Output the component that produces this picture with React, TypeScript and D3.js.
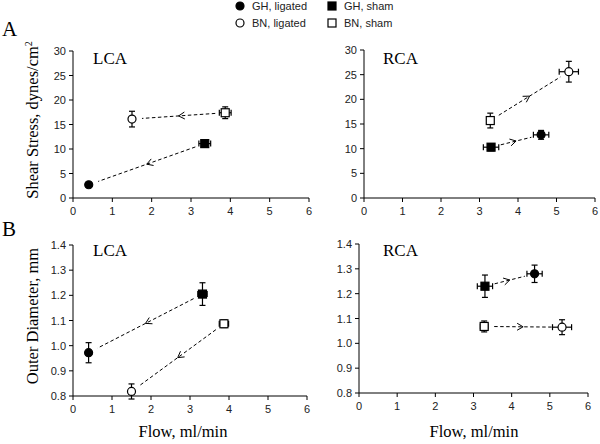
import React from "react";
import * as d3 from "d3";

// Groups order: GH ligated, BN ligated, GH sham, BN sham
const groupNames = ["GH, ligated", "BN, ligated", "GH, sham", "BN, sham"];
const groupShapes = ["circle", "circle", "square", "square"];
const groupFilled = [true, false, true, false];

const xTicks = [0, 1, 2, 3, 4, 5, 6];
const shearTicks = [0, 5, 10, 15, 20, 25, 30];
const diamTicks = [0.8, 0.9, 1.0, 1.1, 1.2, 1.3, 1.4];

// Panel A LCA
const lcaShearX = [0.4, 1.5, 3.35, 3.87];
const lcaShearY = [2.7, 16.1, 11.1, 17.4];
const lcaShearXErr = [0, 0, 0.15, 0.15];
const lcaShearYErr = [0, 1.6, 0.6, 1.2];
// Panel A RCA
const rcaShearX = [4.6, 5.32, 3.3, 3.28];
const rcaShearY = [12.8, 25.6, 10.3, 15.7];
const rcaShearXErr = [0.2, 0.25, 0.2, 0.08];
const rcaShearYErr = [0.9, 2.1, 0.7, 1.5];
// Panel B LCA
const lcaDiamX = [0.4, 1.5, 3.32, 3.87];
const lcaDiamY = [0.972, 0.818, 1.205, 1.087];
const lcaDiamXErr = [0, 0.06, 0.12, 0.12];
const lcaDiamYErr = [0.04, 0.03, 0.045, 0.015];
// Panel B RCA
const rcaDiamX = [4.6, 5.32, 3.3, 3.28];
const rcaDiamY = [1.28, 1.065, 1.23, 1.068];
const rcaDiamXErr = [0.2, 0.25, 0.2, 0.1];
const rcaDiamYErr = [0.035, 0.03, 0.045, 0.022];

// arrows: from sham to ligated
const arrowFrom = [2, 3];
const arrowTo = [0, 1];

const SERIF = "'Liberation Serif', 'Times New Roman', serif";
const SANS = "'Liberation Sans', Arial, sans-serif";

type PanelProps = {
  xs: number[]; ys: number[]; xe: number[]; ye: number[];
  xRange: [number, number]; yRange: [number, number];
  yDomain: [number, number]; yTicks: number[]; yFmt: (v: number) => string;
  title: string; titleX: number; titleY: number;
};

function Marker({ x, y, i }: { x: number; y: number; i: number }) {
  const fill = groupFilled[i] ? "#000" : "#fff";
  if (groupShapes[i] === "circle") {
    return <circle cx={x} cy={y} r={4} fill={fill} stroke="#000" strokeWidth={1.2} />;
  }
  return <rect x={x - 4} y={y - 4} width={8} height={8} fill={fill} stroke="#000" strokeWidth={1.2} />;
}

function Panel(p: PanelProps) {
  const x = d3.scaleLinear().domain([0, 6]).range(p.xRange);
  const y = d3.scaleLinear().domain(p.yDomain).range(p.yRange);
  const y0 = p.yRange[0];
  const x0 = p.xRange[0];
  const cap = 3;
  return (
    <g>
      <line x1={x0} x2={p.xRange[1]} y1={y0} y2={y0} stroke="#000" strokeWidth={1} />
      <line x1={x0} x2={x0} y1={y0} y2={p.yRange[1]} stroke="#000" strokeWidth={1} />
      {xTicks.map((t) => (
        <g key={"xt" + t}>
          <line x1={x(t)} x2={x(t)} y1={y0} y2={y0 + 4} stroke="#000" />
          <text x={x(t)} y={y0 + 17} textAnchor="middle" fontFamily={SANS} fontSize={11} fill="#222">{t}</text>
        </g>
      ))}
      {p.yTicks.map((t) => (
        <g key={"yt" + t}>
          <line x1={x0 - 4} x2={x0} y1={y(t)} y2={y(t)} stroke="#000" />
          <text x={x0 - 7} y={y(t) + 4} textAnchor="end" fontFamily={SANS} fontSize={11} fill="#222">{p.yFmt(t)}</text>
        </g>
      ))}
      <text x={p.titleX} y={p.titleY} fontFamily={SERIF} fontSize={17} fill="#000">{p.title}</text>
      {arrowFrom.map((f, k) => {
        const t = arrowTo[k];
        const ax = x(p.xs[f]), ay = y(p.ys[f]);
        const bx = x(p.xs[t]), by = y(p.ys[t]);
        const dx = bx - ax, dy = by - ay;
        const len = Math.hypot(dx, dy);
        const ux = dx / len, uy = dy / len;
        const sx = ax + ux * 10, sy = ay + uy * 10;
        const ex = bx - ux * 10, ey = by - uy * 10;
        const mx = (ax + bx) / 2, my = (ay + by) / 2;
        const hl = 6, hw = 3.5;
        const px = -uy, py = ux;
        const h1x = mx - ux * hl + px * hw, h1y = my - uy * hl + py * hw;
        const h2x = mx - ux * hl - px * hw, h2y = my - uy * hl - py * hw;
        return (
          <g key={"ar" + k}>
            <line x1={sx} y1={sy} x2={ex} y2={ey} stroke="#000" strokeWidth={1} strokeDasharray="3.5,2.5" />
            <polyline points={`${h1x},${h1y} ${mx},${my} ${h2x},${h2y}`} fill="none" stroke="#000" strokeWidth={1} />
          </g>
        );
      })}
      {p.xs.map((xv, i) => {
        const cx = x(xv), cy = y(p.ys[i]);
        const xl = x(xv - p.xe[i]), xr = x(xv + p.xe[i]);
        const yt = y(p.ys[i] + p.ye[i]), yb = y(p.ys[i] - p.ye[i]);
        return (
          <g key={"pt" + i}>
            {p.xe[i] > 0 && (
              <g stroke="#000" strokeWidth={1.2}>
                <line x1={xl} x2={xr} y1={cy} y2={cy} />
                <line x1={xl} x2={xl} y1={cy - cap} y2={cy + cap} />
                <line x1={xr} x2={xr} y1={cy - cap} y2={cy + cap} />
              </g>
            )}
            {p.ye[i] > 0 && (
              <g stroke="#000" strokeWidth={1.2}>
                <line x1={cx} x2={cx} y1={yt} y2={yb} />
                <line x1={cx - cap} x2={cx + cap} y1={yt} y2={yt} />
                <line x1={cx - cap} x2={cx + cap} y1={yb} y2={yb} />
              </g>
            )}
            <Marker x={cx} y={cy} i={i} />
          </g>
        );
      })}
    </g>
  );
}

export default function App() {
  const fmt0 = (v: number) => d3.format("d")(v);
  const fmt1 = (v: number) => d3.format(".1f")(v);
  const legendOrder = [0, 1, 2, 3];
  return (
    <svg width={600} height={444} style={{ position: "absolute", left: 0, top: 0, background: "#fff" }}>
      <rect width={600} height={444} fill="#fff" />
      {legendOrder.map((i) => {
        const lx = i < 2 ? 240 : 332;
        const ly = i % 2 === 0 ? 6 : 23;
        return (
          <g key={"lg" + i}>
            {groupShapes[i] === "circle" ? (
              <circle cx={lx} cy={ly} r={4} fill={groupFilled[i] ? "#000" : "#fff"} stroke="#000" strokeWidth={1.2} />
            ) : (
              <rect x={lx - 4} y={ly - 4} width={8} height={8} fill={groupFilled[i] ? "#000" : "#fff"} stroke="#000" strokeWidth={1.2} />
            )}
            <text x={lx + 12} y={ly + 4} fontFamily={SANS} fontSize={11} fill="#222">{groupNames[i]}</text>
          </g>
        );
      })}
      <text x={2} y={36} fontFamily={SERIF} fontSize={21} fill="#000">A</text>
      <text x={2} y={236} fontFamily={SERIF} fontSize={21} fill="#000">B</text>
      <text transform="translate(38,120) rotate(-90)" textAnchor="middle" fontFamily={SERIF} fontSize={16.5} fill="#000">
        Shear Stress, dynes/cm<tspan dy={-6} fontSize={10}>2</tspan>
      </text>
      <text transform="translate(38,316) rotate(-90)" textAnchor="middle" fontFamily={SERIF} fontSize={16.5} fill="#000">
        Outer Diameter, mm
      </text>
      <text x={183} y={437} textAnchor="middle" fontFamily={SERIF} fontSize={16.5} fill="#000">Flow, ml/min</text>
      <text x={474} y={437} textAnchor="middle" fontFamily={SERIF} fontSize={16.5} fill="#000">Flow, ml/min</text>

      <Panel xs={lcaShearX} ys={lcaShearY} xe={lcaShearXErr} ye={lcaShearYErr}
        xRange={[73, 309]} yRange={[198, 51]} yDomain={[0, 30]} yTicks={shearTicks} yFmt={fmt0}
        title="LCA" titleX={93} titleY={64} />
      <Panel xs={rcaShearX} ys={rcaShearY} xe={rcaShearXErr} ye={rcaShearYErr}
        xRange={[364, 595]} yRange={[198, 50]} yDomain={[0, 30]} yTicks={shearTicks} yFmt={fmt0}
        title="RCA" titleX={383} titleY={64} />
      <Panel xs={lcaDiamX} ys={lcaDiamY} xe={lcaDiamXErr} ye={lcaDiamYErr}
        xRange={[73, 307]} yRange={[396, 245]} yDomain={[0.8, 1.4]} yTicks={diamTicks} yFmt={fmt1}
        title="LCA" titleX={93} titleY={256} />
      <Panel xs={rcaDiamX} ys={rcaDiamY} xe={rcaDiamXErr} ye={rcaDiamYErr}
        xRange={[359, 588]} yRange={[393, 244]} yDomain={[0.8, 1.4]} yTicks={diamTicks} yFmt={fmt1}
        title="RCA" titleX={383} titleY={256} />
    </svg>
  );
}
